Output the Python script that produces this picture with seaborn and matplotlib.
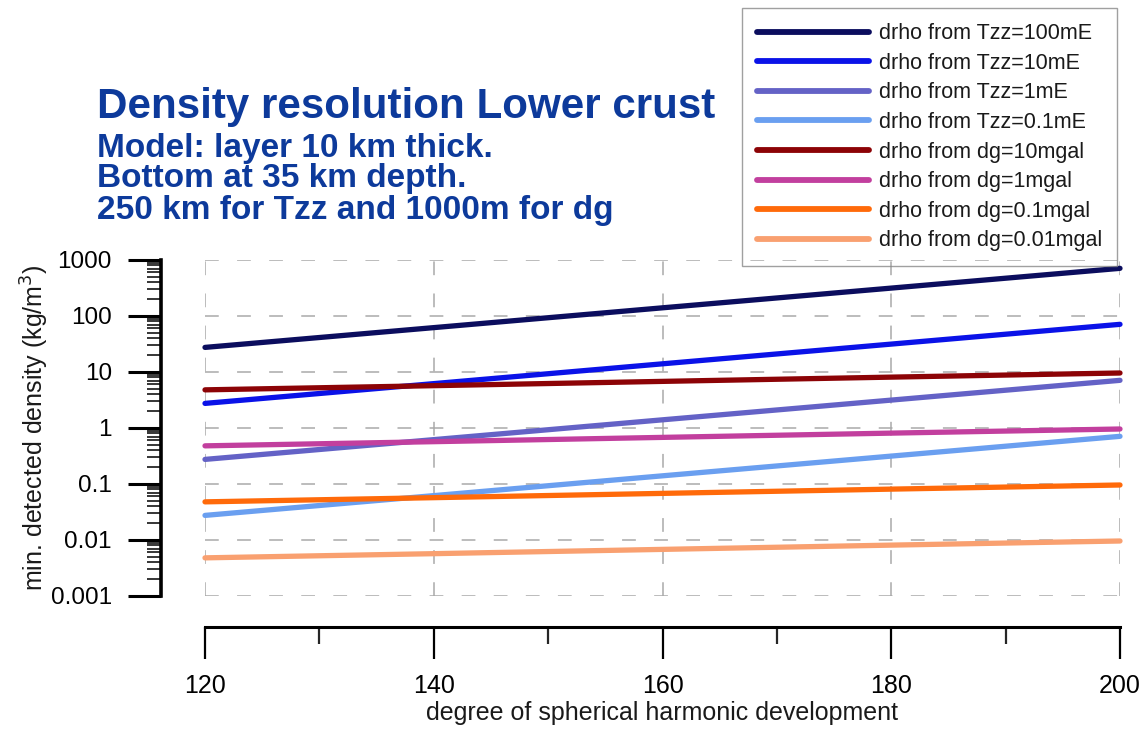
import numpy as np
import pandas as pd
import matplotlib
matplotlib.use("Agg")
import matplotlib.pyplot as plt
import matplotlib.ticker as mticker
import seaborn as sns

# ---- data ----
degrees = [120, 140, 160, 180, 200]
tzz_100mE = [27.5, 62, 140, 315, 710]
tzz_10mE = [2.75, 6.2, 14, 31.5, 71]
tzz_1mE = [0.275, 0.62, 1.4, 3.15, 7.1]
tzz_01mE = [0.0275, 0.062, 0.14, 0.315, 0.71]
dg_10mgal = [4.8, 5.7, 6.8, 8.1, 9.6]
dg_1mgal = [0.48, 0.57, 0.68, 0.81, 0.96]
dg_01mgal = [0.048, 0.057, 0.068, 0.081, 0.096]
dg_001mgal = [0.0048, 0.0057, 0.0068, 0.0081, 0.0096]

series_labels = ["drho from Tzz=100mE", "drho from Tzz=10mE", "drho from Tzz=1mE",
                 "drho from Tzz=0.1mE", "drho from dg=10mgal", "drho from dg=1mgal",
                 "drho from dg=0.1mgal", "drho from dg=0.01mgal"]
series_values = [tzz_100mE, tzz_10mE, tzz_1mE, tzz_01mE,
                 dg_10mgal, dg_1mgal, dg_01mgal, dg_001mgal]
series_colors = ["#0b0d5e", "#0a12e8", "#6462c6", "#6a9ff0",
                 "#8c0306", "#c23f9e", "#ff6a0a", "#f9a070"]

y_ticks = [0.001, 0.01, 0.1, 1, 10, 100, 1000]
y_ticklabels = ["0.001", "0.01", "0.1", "1", "10", "100", "1000"]
x_ticks = [120, 140, 160, 180, 200]
x_minor = [130, 150, 170, 190]

title_main = "Density resolution Lower crust"
title_sub = ["Model: layer 10 km thick.",
             "Bottom at 35 km depth.",
             "250 km for Tzz and 1000m for dg"]

rows = []
for lab, vals in zip(series_labels, series_values):
    for d, v in zip(degrees, vals):
        rows.append({"degree": d, "density": v, "series": lab})
df = pd.DataFrame(rows)

sns.set_style("white")
plt.rcParams["font.family"] = ["Liberation Sans", "DejaVu Sans"]

W, H = 1148, 731
fig = plt.figure(figsize=(W / 100, H / 100), dpi=100)
ax = fig.add_axes([205 / W, 1 - 596 / H, 915 / W, 336 / H])

sns.lineplot(data=df, x="degree", y="density", hue="series",
             hue_order=series_labels, palette=series_colors,
             linewidth=3.8, ax=ax, legend=True, solid_capstyle="round")
for ln in ax.lines:
    ln.set_clip_on(False)

ax.set_yscale("log")
ax.set_xlim(120, 200)
ax.set_ylim(0.001, 1000)
ax.set_yticks(y_ticks)
ax.set_yticklabels(y_ticklabels)
ax.yaxis.set_minor_locator(mticker.LogLocator(base=10, subs=np.arange(2, 10)))
ax.yaxis.set_minor_formatter(mticker.NullFormatter())
ax.set_xticks(x_ticks)
ax.set_xticklabels([str(v) for v in x_ticks])
ax.set_xticks(x_minor, minor=True)

for s in ["top", "right"]:
    ax.spines[s].set_visible(False)
ax.spines["left"].set_position(("outward", 32))
ax.spines["bottom"].set_position(("outward", 22))
ax.spines["left"].set_linewidth(2.6)
ax.spines["bottom"].set_linewidth(2.2)
ax.spines["left"].set_color("black")
ax.spines["bottom"].set_color("black")

ax.tick_params(axis="y", which="major", direction="out", length=24, width=2.2,
               pad=11, labelsize=17.5, colors="black", left=True)
ax.tick_params(axis="y", which="minor", direction="out", length=10, width=1.3,
               left=True)
ax.tick_params(axis="x", which="major", direction="out", length=23, width=1.6,
               pad=11, labelsize=18, colors="black", bottom=True)
ax.tick_params(axis="x", which="minor", direction="out", length=12, width=1.6,
               bottom=True)

ax.grid(True, which="major", axis="both", color="#a9a9a9",
        linestyle=(0, (9, 12)), linewidth=1.1)

ax.set_xlabel("degree of spherical harmonic development", fontsize=18,
              labelpad=2, color="#1a1a1a")
ax.set_ylabel("min. detected density (kg/m$^3$)", fontsize=18, labelpad=0,
              color="#1a1a1a")

# legend
leg_old = ax.get_legend()
handles = leg_old.legend_handles
labels = [t.get_text() for t in leg_old.get_texts()]
leg_old.remove()
for h in handles:
    h.set_linewidth(4.2)
leg = fig.legend(handles, labels, loc="upper right",
                 bbox_to_anchor=(1117 / W, 1 - 8 / H), fontsize=15.5,
                 handlelength=5.2, handletextpad=0.47, labelspacing=0.40,
                 borderpad=0.7, borderaxespad=0, fancybox=False,
                 frameon=True, facecolor="none", edgecolor="#888888")
leg.get_frame().set_linewidth(1.0)
for t in leg.get_texts():
    t.set_color("#1a1a1a")

# titles
title_color = "#0d3a9b"
fig.text(97 / W, 1 - 107 / H, title_main, fontsize=30.3, fontweight="bold",
         color=title_color, va="center", ha="left")
for i, line in enumerate(title_sub):
    fig.text(97 / W, 1 - (148 + 31 * i) / H, line, fontsize=24,
             fontweight="bold", color=title_color, va="center", ha="left")

fig.savefig("out.png", dpi=100)
